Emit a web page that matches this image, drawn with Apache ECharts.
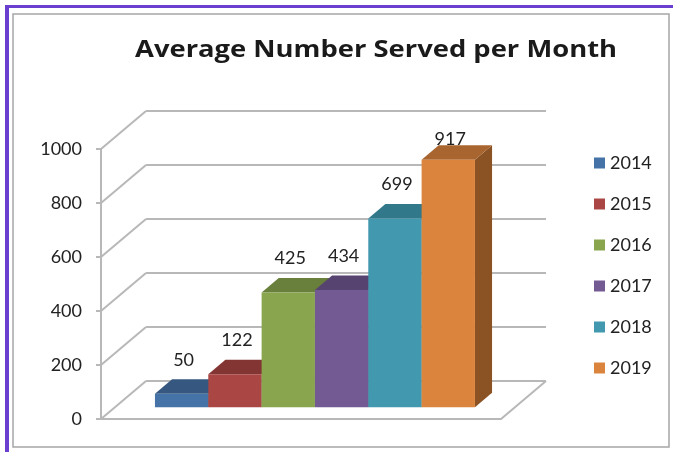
<!DOCTYPE html>
<html>
<head>
<meta charset="utf-8">
<script src="https://cdn.jsdelivr.net/npm/echarts@6/dist/echarts.min.js"></script>
<style>html,body{margin:0;padding:0;background:#fff}#c{width:673px;height:452px}</style>
</head>
<body>
<div id="c"></div>
<script>
// ---- data ----
var years = ['2014', '2015', '2016', '2017', '2018', '2019'];
var values = [50, 122, 425, 434, 699, 917];
var yTicks = [0, 200, 400, 600, 800, 1000];
var titleText = 'Average Number Served per Month';

// ---- styles ----
var frontColors = ['#4572A7', '#AA4643', '#89A54E', '#745A93', '#4198AF', '#DB843D'];
var topColors   = ['#36577F', '#833533', '#697F3C', '#574370', '#31788A', '#A8652F'];
var sideColors  = ['#2C4868', '#6B2B2A', '#566831', '#47375C', '#286271', '#8B5224'];
var DX = 45, DY = -38;       // full depth vector of the floor/wall in px
var F1 = 0.31, F2 = 0.69;    // bar front/back depth fractions
var gridColor = '#B8B8B8';
var FONT = 'Lato';
var TITLE_FONT = 'bold 23px "Open Sans"';
var TITLE_WIDTH = 482;

// horizontal stretch so the title spans the same width as in the reference
var mctx = document.createElement('canvas').getContext('2d');
mctx.font = TITLE_FONT;
var titleScale = TITLE_WIDTH / mctx.measureText(titleText).width;

var chart = echarts.init(document.getElementById('c'), null, {renderer: 'canvas'});

function wallItem(params, api) {
  var v = api.value(0);
  var a = api.coord([-0.75, v]);
  var b = api.coord([6.75, v]);
  var children = [
    {type: 'line', shape: {x1: a[0], y1: a[1], x2: a[0] + DX, y2: a[1] + DY},
     style: {stroke: gridColor, lineWidth: 2}},
    {type: 'line', shape: {x1: a[0] + DX, y1: a[1] + DY, x2: b[0] + DX, y2: b[1] + DY},
     style: {stroke: gridColor, lineWidth: 2}}
  ];
  if (v === 0) {
    children.push({type: 'polyline', shape: {points: [[a[0], a[1]], [b[0], b[1]], [b[0] + DX, b[1] + DY]]},
      style: {stroke: gridColor, lineWidth: 2, fill: null}});
  }
  return {type: 'group', children: children};
}

function barItem(params, api) {
  var i = api.value(0), v = api.value(1);
  var idx = params.seriesIndex - 1;
  var p0 = api.coord([i, 0]);
  var p1 = api.coord([i + 1, v]);
  var top = api.coord([i, 1000]);
  var fx = F1 * DX, fy = F1 * DY;
  var d = (F2 - F1);
  var ddx = d * DX, ddy = d * DY;
  var xl = p0[0] + fx, xr = p1[0] + fx, yb = p0[1] + fy, yt = p1[1] + fy;
  var labelBottom = Math.max(yt - 25, top[1] - 1);
  return {type: 'group', children: [
    {type: 'polygon', shape: {points: [[xr, yb], [xr + ddx, yb + ddy], [xr + ddx, yt + ddy], [xr, yt]]},
     style: {fill: sideColors[idx]}},
    {type: 'polygon', shape: {points: [[xl, yt], [xr, yt], [xr + ddx, yt + ddy], [xl + ddx, yt + ddy]]},
     style: {fill: topColors[idx]}},
    {type: 'rect', shape: {x: xl, y: yt, width: xr - xl, height: yb - yt},
     style: {fill: frontColors[idx]}},
    {type: 'text', x: (xl + xr) / 2 + 2, y: labelBottom,
     style: {text: String(v), fill: '#222', font: '18px ' + FONT, align: 'center', verticalAlign: 'bottom'}}
  ]};
}

var series = [{
  type: 'custom', name: 'wall', silent: true, z: 1,
  data: yTicks.map(function (t) { return [t]; }),
  encode: {y: 0},
  renderItem: wallItem
}];
years.forEach(function (y, k) {
  series.push({
    type: 'custom', name: y, z: 2,
    itemStyle: {color: frontColors[k]},
    data: [[k, values[k]]],
    encode: {x: 0, y: 1},
    renderItem: barItem
  });
});

chart.setOption({
  animation: false,
  backgroundColor: '#fff',
  grid: {left: 101, right: 172, top: 149, bottom: 33},
  xAxis: {type: 'value', min: -0.75, max: 6.75, show: false},
  yAxis: {
    type: 'value', min: 0, max: 1000, interval: 200,
    axisLine: {show: true, onZero: false, lineStyle: {color: gridColor, width: 2}},
    axisTick: {show: true, length: 5, lineStyle: {color: gridColor, width: 2}},
    splitLine: {show: false},
    axisLabel: {margin: 19, color: '#222', fontFamily: FONT, fontSize: 18,
      formatter: function (v) { return String(v); }}
  },
  legend: {
    orient: 'vertical', left: 589, top: 148,
    data: years,
    icon: 'rect', itemWidth: 11, itemHeight: 11, itemGap: 21,
    textStyle: {color: '#222', fontFamily: FONT, fontSize: 18, lineHeight: 20}
  },
  graphic: [
    {type: 'rect', shape: {x: 13, y: 14, width: 656, height: 433}, style: {fill: null, stroke: '#A6A6A6', lineWidth: 1.5}, z: -1},
    {type: 'rect', shape: {x: 5, y: 5, width: 668, height: 3}, style: {fill: '#6A3FCF'}},
    {type: 'rect', shape: {x: 5, y: 5, width: 4, height: 447}, style: {fill: '#6A3FCF'}},
    {type: 'text', x: 376, y: 50, scaleX: titleScale, originX: 0,
     style: {text: titleText, font: TITLE_FONT, fill: '#1a1a1a', align: 'center', verticalAlign: 'middle'}}
  ],
  series: series
});
</script>
</body>
</html>
